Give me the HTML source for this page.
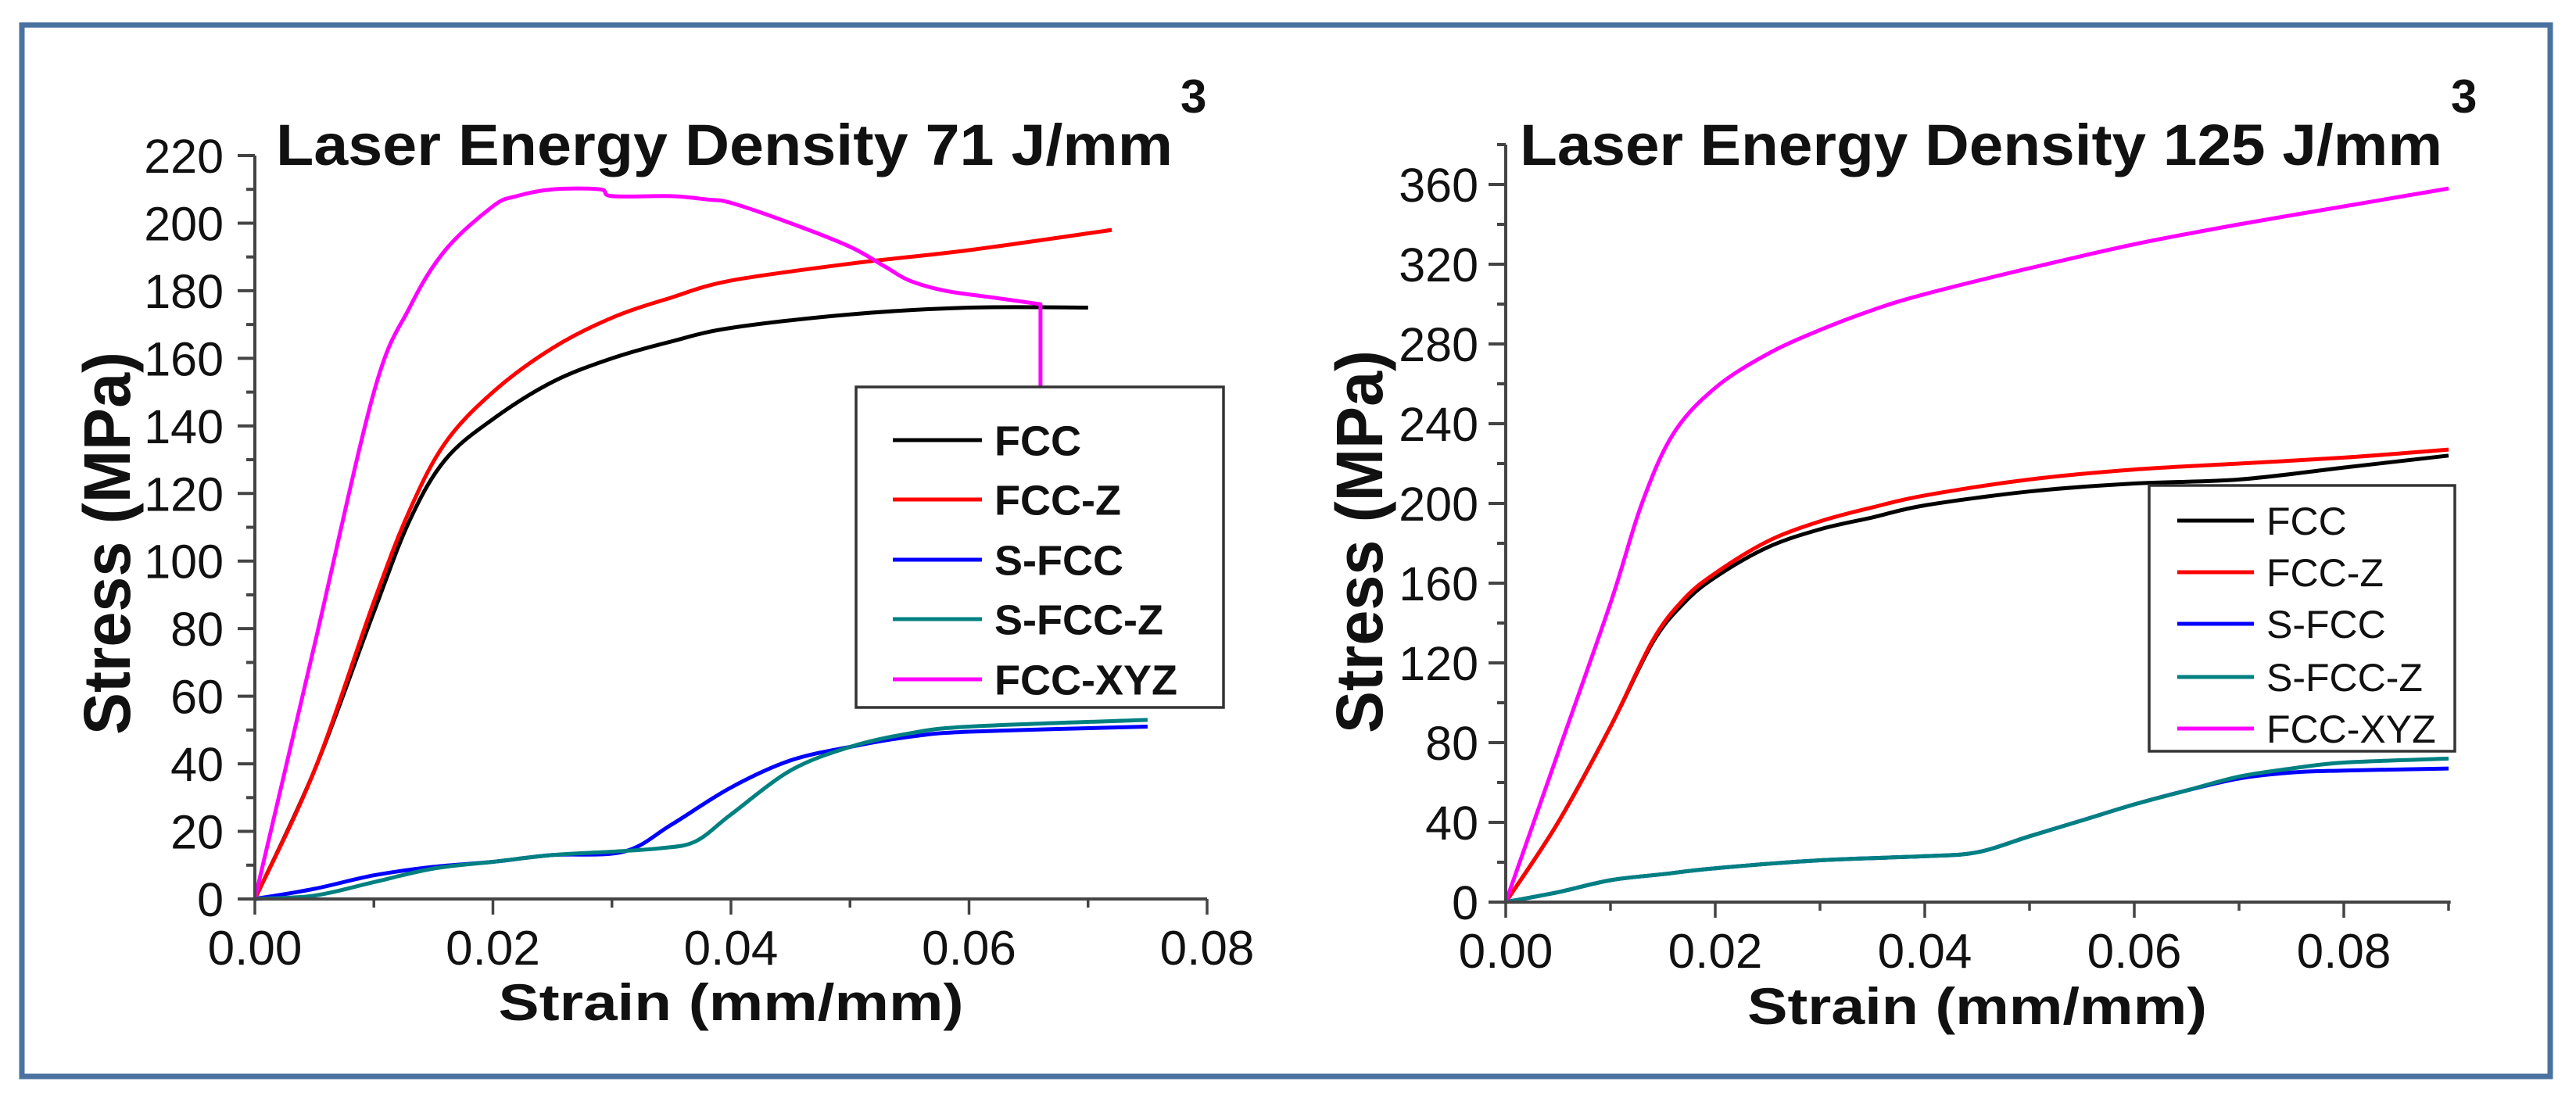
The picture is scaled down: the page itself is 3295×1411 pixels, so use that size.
<!DOCTYPE html>
<html><head><meta charset="utf-8">
<style>
html,body{margin:0;padding:0;background:#fff;}
svg{display:block;font-family:"Liberation Sans",Arial,sans-serif;}
</style></head>
<body>
<svg id="fig" width="3295" height="1411" viewBox="0 0 3295 1411" xmlns="http://www.w3.org/2000/svg">
<rect x="28" y="32" width="3234" height="1345" fill="#fff" stroke="#4a72a0" stroke-width="7"/>
<g id="left"></g>
<g id="right"></g>
</svg>
<script>
// ---- Left chart data (71 J/mm3) ----
const seriesNames = ["FCC","FCC-Z","S-FCC","S-FCC-Z","FCC-XYZ"];
const seriesColors = ["#000000","#ff0000","#0000ff","#008080","#ff00ff"];
const leftYTicks = [0,20,40,60,80,100,120,140,160,180,200,220];
const leftXTicks = [0.00,0.02,0.04,0.06,0.08];
const leftFCC_x = [0,.005,.01,.013,.016,.02,.025,.03,.035,.04,.05,.06,.07];
const leftFCC_y = [0,38,85,112,130,142,153,160,165,169,173,175,175];
const leftFCCZ_x = [0,.005,.01,.013,.016,.02,.025,.03,.035,.04,.05,.06,.072];
const leftFCCZ_y = [0,38,88,115,135,150,163,172,178,183,188,192,198];
const leftSFCC_x = [0,.005,.01,.015,.02,.025,.031,.035,.04,.045,.05,.055,.06,.075];
const leftSFCC_y = [0,3,7,9.5,11,13,14,22,33,41,45,48,49.5,51];
const leftSFCCZ_x = [0,.005,.01,.015,.02,.025,.03,.034,.037,.04,.045,.05,.055,.06,.075];
const leftSFCCZ_y = [0,1,5,9,11,13,14,15,17,25,38,45,49,51,53];
const leftXYZ_x = [0,.005,.01,.013,.016,.02,.022,.025,.029,.03,.035,.038,.04,.045,.05,.053,.055,.058,.062,.066,.066,.0682];
const leftXYZ_y = [0,75,150,175,192,205,208,210,210,208,208,207,206,200,193,187,183,180,178,176,151,151];
// ---- Right chart data (125 J/mm3) ----
const rightYTicks = [0,40,80,120,160,200,240,280,320,360];
const rightXTicks = [0.00,0.02,0.04,0.06,0.08];
const rightFCC_x = [0,.005,.01,.014,.017,.02,.025,.03,.035,.04,.05,.06,.07,.08,.09];
const rightFCC_y = [0,40,88,130,150,163,178,187,193,199,206,210,212,218,224];
const rightFCCZ_x = [0,.005,.01,.014,.017,.02,.025,.03,.035,.04,.05,.06,.07,.08,.09];
const rightFCCZ_y = [0,40,88,131,152,165,181,191,198,204,212,217,220,223,227];
const rightSFCC_x = [0,.005,.01,.015,.02,.03,.04,.045,.05,.055,.06,.065,.07,.075,.08,.09];
const rightSFCC_y = [0,5,11,14,17,21,23,25,33,41,49,56,62,65,66,67];
const rightSFCCZ_x = [0,.005,.01,.015,.02,.03,.04,.045,.05,.055,.06,.065,.07,.075,.08,.09];
const rightSFCCZ_y = [0,5,11,14,17,21,23,25,33,41,49,56,63,67,70,72];
const rightXYZ_x = [0,.005,.01,.013,.016,.02,.025,.03,.035,.04,.05,.06,.07,.08,.09];
const rightXYZ_y = [0,75,150,200,235,258,275,287,297,305,318,330,340,349,358];

const NS="http://www.w3.org/2000/svg";
function mk(parent,tag,attrs,text){const e=document.createElementNS(NS,tag);for(const k in attrs)e.setAttribute(k,attrs[k]);if(text!==undefined)e.textContent=text;parent.appendChild(e);return e;}

function smoothPath(pts){
  let d="M"+pts[0][0].toFixed(1)+","+pts[0][1].toFixed(1);
  for(let i=0;i<pts.length-1;i++){
    const p0=pts[i-1]||pts[i],p1=pts[i],p2=pts[i+1],p3=pts[i+2]||p2;
    if(Math.abs(p1[0]-p2[0])<0.5){d+=" L"+p2[0].toFixed(1)+","+p2[1].toFixed(1);continue;}
    const q0=(Math.abs(p0[0]-p1[0])<0.5)?p1:p0, q3=(Math.abs(p3[0]-p2[0])<0.5)?p2:p3;
    const c1=[p1[0]+(p2[0]-q0[0])/6,p1[1]+(p2[1]-q0[1])/6];
    const c2=[p2[0]-(q3[0]-p1[0])/6,p2[1]-(q3[1]-p1[1])/6];
    d+=` C${c1[0].toFixed(1)},${c1[1].toFixed(1)} ${c2[0].toFixed(1)},${c2[1].toFixed(1)} ${p2[0].toFixed(1)},${p2[1].toFixed(1)}`;
  }
  return d;
}

function chart(g,cfg){
  const sx=v=>cfg.x0+(v-cfg.xmin)/(cfg.xmax-cfg.xmin)*(cfg.x1-cfg.x0);
  const sy=v=>cfg.y0-(v-cfg.ymin)/(cfg.ymax-cfg.ymin)*(cfg.y0-cfg.y1);
  cfg.series.forEach((s,i)=>{
    const pts=s.x.map((xv,j)=>[sx(xv),sy(s.y[j])]);
    const p=mk(g,"path",{d:smoothPath(pts),fill:"none",stroke:seriesColors[i],"stroke-width":5,"stroke-linejoin":"round"});
    
    
  });
  const ax=mk(g,"path",{d:`M${cfg.x0},${sy(cfg.ytop)} L${cfg.x0},${cfg.y0} L${sx(cfg.xend)},${cfg.y0}`,fill:"none",stroke:"#444","stroke-width":4});
  
  
  const ystep=cfg.yTicks[1]-cfg.yTicks[0];
  for(let v=cfg.ymin;v<=cfg.ytop+1e-9;v+=ystep/2){
    const major=Math.abs(v/ystep-Math.round(v/ystep))<1e-6;
    mk(g,"line",{x1:cfg.x0,x2:cfg.x0-(major?22:11),y1:sy(v),y2:sy(v),stroke:"#444","stroke-width":4});
  }
  cfg.yTicks.forEach(v=>{
    const t=mk(g,"text",{x:cfg.ylabR,y:sy(v)+22,"text-anchor":"end","font-size":61,fill:"#111"},String(v));
    
    
  });
  for(let v=cfg.xmin;v<=cfg.xend+1e-9;v+=0.01){
    const major=Math.abs(v/0.02-Math.round(v/0.02))<1e-6;
    mk(g,"line",{x1:sx(v),x2:sx(v),y1:cfg.y0,y2:cfg.y0+(major?20:11),stroke:"#444","stroke-width":3.5});
  }
  cfg.xTicks.forEach(v=>{
    const t=mk(g,"text",{x:sx(v),y:cfg.y0+84,"text-anchor":"middle","font-size":62,fill:"#111"},v.toFixed(2));
    
    
  });
  const xt=mk(g,"text",{x:cfg.xtX,y:cfg.xtY,"text-anchor":"middle","font-size":66,"font-weight":"bold",fill:"#111",textLength:cfg.xtW,lengthAdjust:"spacingAndGlyphs"},"Strain (mm/mm)");
  
  
  const yt=mk(g,"text",{x:0,y:0,transform:`translate(${cfg.ytX},${cfg.ytY}) rotate(-90)`,"text-anchor":"middle","font-size":84,"font-weight":"bold",fill:"#111",textLength:490,lengthAdjust:"spacingAndGlyphs"},"Stress (MPa)");
  
  
  const tt=mk(g,"text",{x:cfg.tX,y:211,"font-size":74,"font-weight":"bold",fill:"#111",textLength:cfg.tW,lengthAdjust:"spacingAndGlyphs"},cfg.title);
  
  
  const sup=mk(g,"text",{x:cfg.supX,y:144,"font-size":60,"font-weight":"bold",fill:"#111"},"3");
  
  
  const L=cfg.legend;
  const lb=mk(g,"rect",{x:L.x,y:L.y,width:L.w,height:L.h,fill:"#fff",stroke:"#333","stroke-width":3.5});
  
  
  seriesNames.forEach((n,i)=>{
    const yy=L.ys[i];
    const ln=mk(g,"line",{x1:L.lx0,x2:L.lx1,y1:yy,y2:yy,stroke:seriesColors[i],"stroke-width":5});
    
    
    const tx=mk(g,"text",{x:L.tx,y:yy+L.fs*0.36,"font-size":L.fs,"font-weight":L.fw,fill:"#111"},n);
    
    
  });
}

chart(document.getElementById("left"),{
  x0:326,x1:1544,y0:1150,y1:199,xmin:0,xmax:0.08,xend:0.08,ymin:0,ymax:220,ytop:220,ylabR:286,
  yTicks:leftYTicks,xTicks:leftXTicks,xtX:935,xtY:1305,xtW:595,ytX:166,ytY:695,tX:353,tW:1147,supX:1510,
  title:"Laser Energy Density 71 J/mm",
  series:[{x:leftFCC_x,y:leftFCC_y},{x:leftFCCZ_x,y:leftFCCZ_y},{x:leftSFCC_x,y:leftSFCC_y},{x:leftSFCCZ_x,y:leftSFCCZ_y},{x:leftXYZ_x,y:leftXYZ_y}],
  legend:{x:1095,y:495,w:470,h:410,ys:[563,639,716,792,869],lx0:1142,lx1:1256,tx:1272,fs:54,fw:"bold"}
});
chart(document.getElementById("right"),{
  x0:1926,x1:3132,y0:1154,y1:236,xmin:0,xmax:0.09,xend:0.0902,ymin:0,ymax:360,ytop:380,ylabR:1891,
  yTicks:rightYTicks,xTicks:rightXTicks,xtX:2529,xtY:1310,xtW:588,ytX:1768,ytY:693,tX:1944,tW:1180,supX:3135,
  title:"Laser Energy Density 125 J/mm",
  series:[{x:rightFCC_x,y:rightFCC_y},{x:rightFCCZ_x,y:rightFCCZ_y},{x:rightSFCC_x,y:rightSFCC_y},{x:rightSFCCZ_x,y:rightSFCCZ_y},{x:rightXYZ_x,y:rightXYZ_y}],
  legend:{x:2749,y:621,w:391,h:340,ys:[666,732,798,866,932],lx0:2785,lx1:2883,tx:2899,fs:50,fw:"normal"}
});
</script>
</body></html>
